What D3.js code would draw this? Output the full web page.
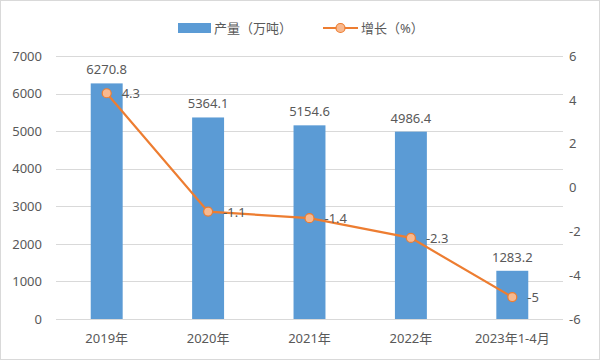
<!DOCTYPE html>
<html><head><meta charset="utf-8">
<script src="https://cdn.jsdelivr.net/npm/d3@7"></script>
<style>body{margin:0;background:#fff;} text{font-family:"Noto Sans","Noto Sans CJK SC",sans-serif;}</style>
</head><body><svg id="c" width="600" height="360"></svg>
<script>
const categories = ["2019年","2020年","2021年","2022年","2023年1-4月"];
const output = [6270.8, 5364.1, 5154.6, 4986.4, 1283.2];
const growth = [4.3, -1.1, -1.4, -2.3, -5];
const leftTicks = [0,1000,2000,3000,4000,5000,6000,7000];
const rightTicks = [-6,-4,-2,0,2,4,6];

const svg = d3.select("#c");
const W=600,H=360, L=56, R=563, T=56, B=319;
svg.append("rect").attr("x",0.5).attr("y",0.5).attr("width",W-1).attr("height",H-1).attr("fill","#fff").attr("stroke","#d9d9d9");

const x = d3.scaleBand().domain(categories).range([L,R]).paddingInner(0.685).paddingOuter(0.3425);
const yL = d3.scaleLinear().domain([0,7000]).range([B,T]);
const yR = d3.scaleLinear().domain([-6,6]).range([B,T]);
const gray="#595959";

// gridlines
svg.append("g").selectAll("line").data(leftTicks).join("line")
 .attr("x1",L).attr("x2",R).attr("y1",d=>Math.round(yL(d))+0.5).attr("y2",d=>Math.round(yL(d))+0.5)
 .attr("stroke","#d9d9d9").attr("stroke-width",1);

// left axis
const ga = svg.append("g").attr("transform",`translate(${L},0)`).call(d3.axisLeft(yL).tickValues(leftTicks).tickSize(0).tickPadding(14).tickFormat(d=>String(d)));
ga.select(".domain").remove();
ga.selectAll("text").attr("fill",gray).style("font-size","13px");
// right axis
const gr = svg.append("g").attr("transform",`translate(${R},0)`).call(d3.axisRight(yR).tickValues(rightTicks).tickSize(0).tickPadding(6).tickFormat(d=>String(d)));
gr.select(".domain").remove();
gr.selectAll("text").attr("fill",gray).style("font-size","13px");
// bottom axis
const gb = svg.append("g").attr("transform",`translate(0,${B})`).call(d3.axisBottom(x).tickSize(0).tickPadding(15));
gb.select(".domain").remove();
gb.selectAll("text").attr("fill",gray).style("font-size","13px");

// bars
svg.append("g").selectAll("rect").data(output).join("rect")
 .attr("x",(d,i)=>x(categories[i])).attr("width",x.bandwidth())
 .attr("y",d=>yL(d)).attr("height",d=>B-yL(d)).attr("fill","#5B9BD5");
svg.append("g").selectAll("text").data(output).join("text")
 .attr("x",(d,i)=>x(categories[i])+x.bandwidth()/2).attr("y",d=>yL(d)-9)
 .attr("text-anchor","middle").attr("fill",gray).style("font-size","13px").text(d=>d.toFixed(1));

// line
const cx = i=>x(categories[i])+x.bandwidth()/2;
const line = d3.line().x((d,i)=>cx(i)).y(d=>yR(d));
svg.append("path").datum(growth).attr("d",line).attr("fill","none").attr("stroke","#ED7D31").attr("stroke-width",2.2);
svg.append("g").selectAll("circle").data(growth).join("circle")
 .attr("cx",(d,i)=>cx(i)).attr("cy",d=>yR(d)).attr("r",4.5)
 .attr("fill","#F8B98F").attr("stroke","#ED7D31").attr("stroke-width",1.2);
svg.append("g").selectAll("text").data(growth).join("text")
 .attr("x",(d,i)=>cx(i)+15).attr("y",d=>yR(d)+5)
 .attr("fill",gray).style("font-size","13px").text(d=>String(d));

// legend
const lg = svg.append("g");
lg.append("rect").attr("x",178).attr("y",23).attr("width",33).attr("height",10).attr("fill","#5B9BD5");
lg.append("text").attr("x",214).attr("y",33).attr("fill",gray).style("font-size","13px").text("产量（万吨）");
lg.append("line").attr("x1",323).attr("x2",358).attr("y1",28).attr("y2",28).attr("stroke","#ED7D31").attr("stroke-width",2.2);
lg.append("circle").attr("cx",340.5).attr("cy",28).attr("r",4.5).attr("fill","#F8B98F").attr("stroke","#ED7D31").attr("stroke-width",1.2);
lg.append("text").attr("x",361).attr("y",33).attr("fill",gray).style("font-size","13px").text("增长（%）");
</script></body></html>
